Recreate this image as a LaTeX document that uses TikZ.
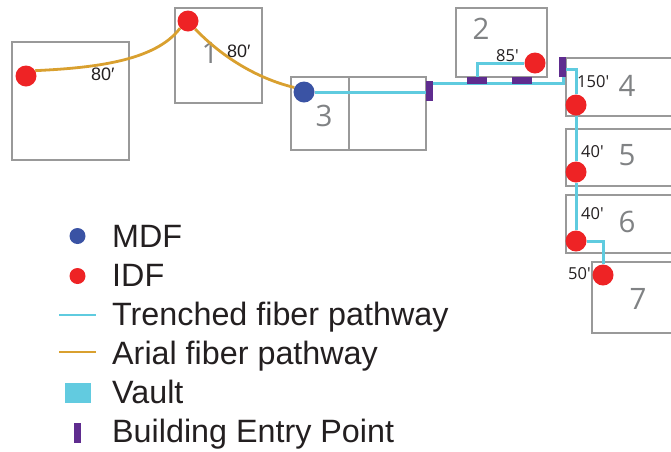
\documentclass[tikz,border=0pt]{standalone}
\usepackage{fontspec}
\setmainfont{Liberation Sans}
\newfontfamily\myr{Open Sans}
\definecolor{boxgrey}{HTML}{999999}
\definecolor{digitgrey}{HTML}{808284}
\definecolor{trench}{HTML}{5FCBDF}
\definecolor{arial}{HTML}{D9A02F}
\definecolor{idfred}{HTML}{EE2325}
\definecolor{mdfblue}{HTML}{3A53A4}
\definecolor{entry}{HTML}{5F2C8F}
\definecolor{vault}{HTML}{62CBE0}
\definecolor{ink}{HTML}{231F20}
\usetikzlibrary{backgrounds}
\tikzset{
  bldg/.style={draw=boxgrey,line width=1.3pt,anchor=north west,inner sep=0pt,outer sep=0pt},
  digit/.style={text=digitgrey,anchor=base,inner sep=0pt,font=\myr\fontsize{29.5}{30}\selectfont},
  lenA/.style={text=ink,anchor=base west,inner sep=0pt,font=\fontsize{18}{20}\selectfont},
  lenB/.style={text=ink,anchor=base west,inner sep=0pt,font=\myr\fontsize{16.5}{20}\selectfont},
  idf/.style={circle,fill=idfred,minimum size=21pt,inner sep=0pt},
  mdf/.style={circle,fill=mdfblue,minimum size=21pt,inner sep=0pt},
  entryH/.style={fill=entry,minimum width=20pt,minimum height=7pt,inner sep=0pt},
  entryV/.style={fill=entry,minimum width=7pt,minimum height=20pt,inner sep=0pt},
  trenchline/.style={draw=trench,line width=3pt},
  arialline/.style={draw=arial,line width=2.8pt},
  legend/.style={text=ink,anchor=base west,inner sep=0pt,font=\fontsize{32.3}{34}\selectfont},
}
\begin{document}
\begin{tikzpicture}[x=1pt,y=-1pt]
\useasboundingbox (0,0) rectangle (671,451);
\begin{pgfonlayer}{background}
\node[bldg,minimum width=117pt,minimum height=118pt] (b0) at (12,42) {};
\node[bldg,minimum width=87pt,minimum height=95pt] (b1) at (175,8) {};
\node[bldg,minimum width=58pt,minimum height=73pt] (b3a) at (291,77) {};
\node[bldg,minimum width=77pt,minimum height=73pt] (b3b) at (349,77) {};
\node[bldg,minimum width=91pt,minimum height=69pt] (b2) at (456,8) {};
\node[bldg,minimum width=110pt,minimum height=58pt] (b4) at (566,58) {};
\node[bldg,minimum width=110pt,minimum height=57pt] (b5) at (566,129) {};
\node[bldg,minimum width=110pt,minimum height=58pt] (b6) at (566,195) {};
\node[bldg,minimum width=84pt,minimum height=71pt] (b7) at (592,262) {};
\node[digit] (d1) at (210,63) {1};
\node[digit] (d2) at (481,39) {2};
\node[digit] (d3) at (324,126) {3};
\node[digit] (d4) at (627,96) {4};
\node[digit] (d5) at (627,165) {5};
\node[digit] (d6) at (627,232) {6};
\node[digit] (d7) at (638,309) {7};
\end{pgfonlayer}
% equipment
\node[idf] (r0) at (26,76) {};
\node[idf] (r1) at (188,21) {};
\node[mdf] (m3) at (304,92) {};
\node[idf] (r2) at (535,63) {};
\node[idf] (r4) at (576,105) {};
\node[idf] (r5) at (576,172) {};
\node[idf] (r6) at (576,241) {};
\node[idf] (r7) at (603,275) {};
% building entry points
\node[entryV] (e3) at (429.5,91) {};
\node[entryH] (e2a) at (477,80.5) {};
\node[entryH] (e2b) at (522,80.5) {};
\node[entryV] (e4) at (562.5,67) {};
% junctions
\coordinate (j1) at (433,83.5);
\coordinate (j2) at (563,83.5);
\coordinate (j3) at (563,69.5);
\coordinate (j4) at (576.5,69.5);
\coordinate (j5) at (477,63.5);
\coordinate (j6) at (477,83.5);
\coordinate (j7) at (603,241);
\begin{pgfonlayer}{background}
\draw[trenchline] (m3.east) -- (e3.west |- m3.east);
\draw[trenchline] (j1) -- (j2) -- (j3) -- (j4) -- (r4.north -| j4);
\draw[trenchline] (j6) -- (j5) -- (r2.west |- j5);
\draw[trenchline] (r4.south) -- (r5.north);
\draw[trenchline] (r5.south) -- (r6.north);
\draw[trenchline] (r6.east |- j7) -- (j7) -- (r7.north);
\draw[arialline] (r0.30) .. controls (90,68) and (155,62) .. (r1.222);
\draw[arialline] (r1.-48) .. controls (220,55) and (255,78) .. (m3.155);
\end{pgfonlayer}
% length labels
\node[lenA] (l1) at (91,80) {80′};
\node[lenA] (l2) at (227,57) {80′};
\node[lenB] (l3) at (496,61) {85′};
\node[lenB] (l4) at (577,87) {150′};
\node[lenB] (l5) at (581,157) {40′};
\node[lenB] (l6) at (581,219) {40′};
\node[lenB] (l7) at (568,279) {50′};
% legend
\node[circle,fill=mdfblue,minimum size=16pt,inner sep=0pt] (k1) at (77.5,236) {};
\node[circle,fill=idfred,minimum size=16pt,inner sep=0pt] (k2) at (77.5,276) {};
\coordinate (k3a) at (59,315); \coordinate (k3b) at (96,315);
\draw[draw=trench,line width=2.5pt] (k3a) -- (k3b);
\coordinate (k4a) at (59,352); \coordinate (k4b) at (96,352);
\draw[draw=arial,line width=2.5pt] (k4a) -- (k4b);
\node[fill=vault,minimum width=26pt,minimum height=20pt,inner sep=0pt] (k5) at (78,393) {};
\node[fill=entry,minimum width=7pt,minimum height=20pt,inner sep=0pt] (k6) at (77.5,433) {};
\node[legend] (t1) at (112,247) {MDF};
\node[legend] (t2) at (112,286) {IDF};
\node[legend] (t3) at (112,325) {Trenched fiber pathway};
\node[legend] (t4) at (112,364) {Arial fiber pathway};
\node[legend] (t5) at (112,403) {Vault};
\node[legend] (t6) at (112,442) {Building Entry Point};
\end{tikzpicture}
\end{document}
